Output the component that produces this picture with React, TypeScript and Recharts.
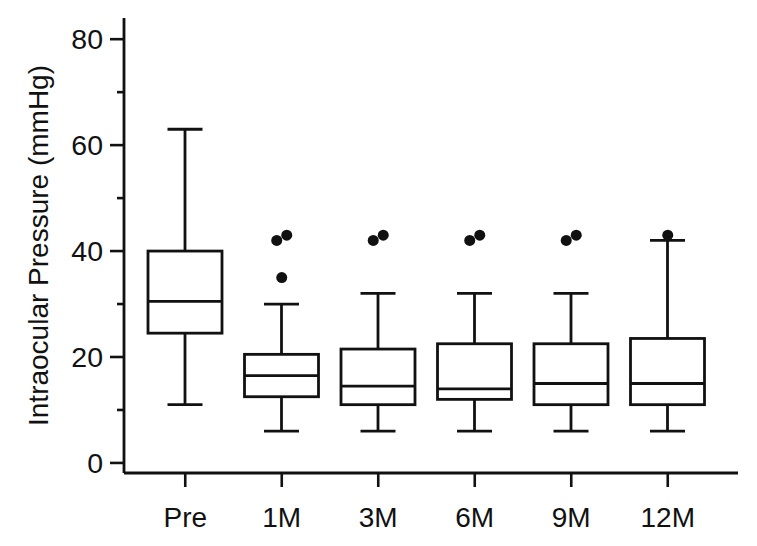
import React from "react";
import { Bar, ComposedChart, Scatter, XAxis, YAxis } from "recharts";

const categories = ["Pre", "1M", "3M", "6M", "9M", "12M"];
const whiskerLow = [11, 6, 6, 6, 6, 6];
const q1 = [24.5, 12.5, 11, 12, 11, 11];
const median = [30.5, 16.5, 14.5, 14, 15, 15];
const q3 = [40, 20.5, 21.5, 22.5, 22.5, 23.5];
const whiskerHigh = [63, 30, 32, 32, 32, 42];
const outlierLow: (number | null)[] = [null, 42, 42, 42, 42, null];
const outlierHigh: (number | null)[] = [null, 43, 43, 43, 43, 43];
const outlierMid: (number | null)[] = [null, 35, null, null, null, null];
const yTicks = [0, 10, 20, 30, 40, 50, 60, 70, 80];

const INK = "#111";
const FONT = "'Liberation Sans', Arial, sans-serif";

const data = categories.map((name, i) => ({
  name,
  range: [whiskerLow[i], whiskerHigh[i]],
  lo: whiskerLow[i],
  q1: q1[i],
  med: median[i],
  q3: q3[i],
  hi: whiskerHigh[i],
  oLow: outlierLow[i],
  oHigh: outlierHigh[i],
  oMid: outlierMid[i],
}));

function BoxShape(props: any) {
  const { x, y, width, height, payload } = props;
  const { lo, hi } = payload;
  const py = (v: number) => y + (height * (hi - v)) / (hi - lo);
  const cx = x + width / 2;
  const cap = 35;
  return (
    <g stroke={INK} strokeWidth={2.8} fill="none">
      <line x1={cx} x2={cx} y1={py(hi)} y2={py(payload.q3)} />
      <line x1={cx} x2={cx} y1={py(payload.q1)} y2={py(lo)} />
      <line x1={cx - cap / 2} x2={cx + cap / 2} y1={py(hi)} y2={py(hi)} />
      <line x1={cx - cap / 2} x2={cx + cap / 2} y1={py(lo)} y2={py(lo)} />
      <rect x={x} y={py(payload.q3)} width={width} height={py(payload.q1) - py(payload.q3)} fill="#fff" />
      <line x1={x} x2={x + width} y1={py(payload.med)} y2={py(payload.med)} />
    </g>
  );
}

const makeDot = (key: "oLow" | "oHigh" | "oMid") => (props: any) => {
  const { cx, cy, payload } = props;
  if (payload[key] == null || !Number.isFinite(cx) || !Number.isFinite(cy)) return <g />;
  let dx = 0;
  if (key === "oLow") dx = -5;
  if (key === "oHigh" && payload.oLow != null) dx = 5;
  return <circle cx={cx + dx} cy={cy} r={5.5} fill={INK} />;
};

function YTick(props: any) {
  const { x, y, payload } = props;
  const major = payload.value % 20 === 0;
  return (
    <g>
      <line x1={x - (major ? 14 : 7)} x2={x} y1={y} y2={y} stroke={INK} strokeWidth={2.6} />
      {major && (
        <text x={x - 21} y={y} dy="0.355em" textAnchor="end" fontSize={28.5} fill={INK}>
          {payload.value}
        </text>
      )}
    </g>
  );
}

function YLabel(props: any) {
  const { viewBox } = props;
  const cy = viewBox.y + viewBox.height / 2;
  const lx = 48;
  return (
    <text
      x={lx}
      y={cy}
      transform={`rotate(-90, ${lx}, ${cy})`}
      textAnchor="middle"
      fontSize={28}
      fill={INK}
    >
      Intraocular  Pressure (mmHg)
    </text>
  );
}

export default function App() {
  return (
    <div style={{ position: "absolute", left: 0, top: 0, background: "#fff", fontFamily: FONT }}>
      <ComposedChart
        width={757}
        height={546}
        data={data}
        margin={{ top: 18, right: 19, bottom: 0, left: 0 }}
        style={{ fontFamily: FONT }}
      >
        <XAxis
          dataKey="name"
          type="category"
          height={73}
          padding={{ left: 13, right: 22 }}
          axisLine={{ stroke: INK, strokeWidth: 2.8 }}
          tickLine={{ stroke: INK, strokeWidth: 2.6 }}
          tickSize={14}
          tickMargin={20}
          tick={{ fill: INK, fontSize: 28 }}
          interval={0}
        />
        <YAxis
          type="number"
          width={124}
          domain={[-1.9, 84]}
          allowDataOverflow
          ticks={yTicks}
          interval={0}
          tickSize={0}
          tickMargin={0}
          tickLine={false}
          axisLine={{ stroke: INK, strokeWidth: 2.8 }}
          tick={<YTick />}
          label={<YLabel />}
        />
        <Bar dataKey="range" barSize={74} shape={<BoxShape />} isAnimationActive={false} />
        <Scatter dataKey="oLow" shape={makeDot("oLow")} isAnimationActive={false} />
        <Scatter dataKey="oHigh" shape={makeDot("oHigh")} isAnimationActive={false} />
        <Scatter dataKey="oMid" shape={makeDot("oMid")} isAnimationActive={false} />
      </ComposedChart>
    </div>
  );
}
